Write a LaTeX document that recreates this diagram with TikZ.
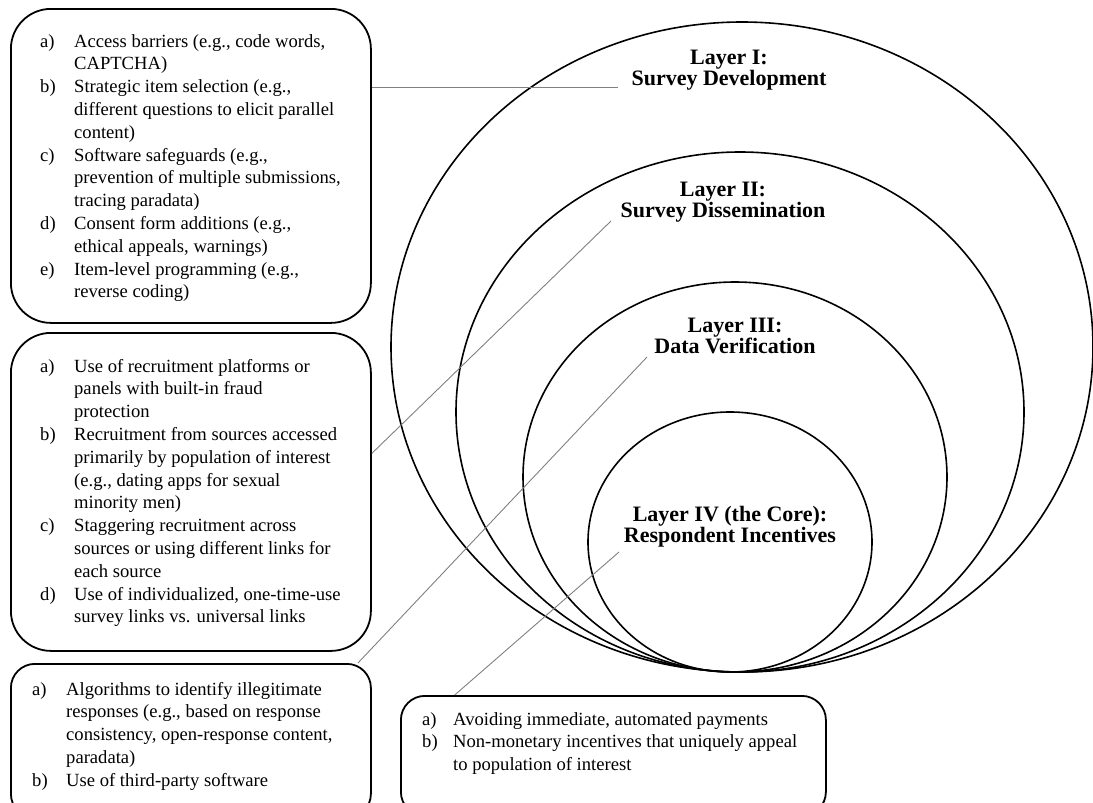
\documentclass[tikz,border=0pt]{standalone}
\usepackage{fontspec}
\setmainfont{Liberation Serif}

\newcommand{\itemfont}{\fontsize{18.6}{22.8}\selectfont}
\newcommand{\layerfont}{\fontsize{22}{21}\selectfont\bfseries}

\tikzset{
  listbox/.style={draw, line width=1.8pt, rounded corners=40pt, inner sep=0pt, anchor=north west},
  listtext/.style={font=\itemfont, inner sep=0pt, anchor=north west},
  layertitle/.style={font=\layerfont, align=center, inner sep=0pt},
  ring/.style={line width=1.6pt},
  link/.style={draw=black!50, line width=0.9pt},
}

\begin{document}
\begin{tikzpicture}[x=1pt,y=-1pt]
    \useasboundingbox (0,0) rectangle (1093,803);
    \clip (0,0) rectangle (1093,803);

    % Nested layers, all touching at the bottom
    \draw[ring] (742,347) ellipse [x radius=351pt, y radius=325pt];
    \draw[ring] (740,412) ellipse [x radius=284pt, y radius=260pt];
    \draw[ring] (735,477) ellipse [x radius=212pt, y radius=195pt];
    \draw[ring] (730,542) ellipse [x radius=142pt, y radius=130pt];

    % Layer titles
    \node[layertitle] (lay1) at (729,70.6) {Layer I:\\Survey Development};
    \node[layertitle] (lay2) at (723,202.6) {Layer II:\\Survey Dissemination};
    \node[layertitle] (lay3) at (735,336) {Layer III:\\Data Verification};
    \node[layertitle] (lay4) at (730,526.6) {Layer IV (the Core):\\Respondent Incentives};

    % Box for layer I
    \node[listbox, minimum width=360pt, minimum height=314pt] (devbox) at (10,8) {};
    \node[listtext] (devlist) at (40,31) {\begin{tabular}{@{}p{34pt}@{}l@{}}
        a) & Access barriers (e.g., code words,\\
           & CAPTCHA)\\
        b) & Strategic item selection (e.g.,\\
           & different questions to elicit parallel\\
           & content)\\
        c) & Software safeguards (e.g.,\\
           & prevention of multiple submissions,\\
           & tracing paradata)\\
        d) & Consent form additions (e.g.,\\
           & ethical appeals, warnings)\\
        e) & Item-level programming (e.g.,\\
           & reverse coding)
    \end{tabular}};

    % Box for layer II
    \node[listbox, minimum width=360pt, minimum height=318pt] (disbox) at (10,332) {};
    \node[listtext] (dislist) at (40,356) {\begin{tabular}{@{}p{34pt}@{}l@{}}
        a) & Use of recruitment platforms or\\
           & panels with built-in fraud\\
           & protection\\
        b) & Recruitment from sources accessed\\
           & primarily by population of interest\\
           & (e.g., dating apps for sexual\\
           & minority men)\\
        c) & Staggering recruitment across\\
           & sources or using different links for\\
           & each source\\
        d) & Use of individualized, one-time-use\\
           & survey links vs. universal links
    \end{tabular}};

    % Box for layer III (runs off the bottom)
    \node[listbox, rounded corners=24pt, minimum width=360pt, minimum height=154pt] (vfybox) at (10,663) {};
    \node[listtext] (vfylist) at (32,679) {\begin{tabular}{@{}p{34pt}@{}l@{}}
        a) & Algorithms to identify illegitimate\\
           & responses (e.g., based on response\\
           & consistency, open-response content,\\
           & paradata)\\
        b) & Use of third-party software
    \end{tabular}};

    % Box for layer IV (runs off the bottom)
    \node[listbox, rounded corners=24pt, minimum width=425pt, minimum height=120pt] (paybox) at (400,695) {};
    \node[listtext] (paylist) at (422,709) {\begin{tabular}{@{}p{31pt}@{}l@{}}
        a) & Avoiding immediate, automated payments\\
        b) & Non-monetary incentives that uniquely appeal\\
           & to population of interest
    \end{tabular}};

    % Leader lines from the boxes to the titles
    \coordinate (tip1) at (618,87);
    \coordinate (tip2) at (611,221);
    \coordinate (tip3) at (647,357);
    \coordinate (tip4) at (619,552);
    \draw[link] (devbox.east |- tip1) -- (tip1);
    \draw[link] (disbox.12.8) -- (tip2);
    \draw[link] (vfybox.25) -- (tip3);
    \draw[link] (paybox.159.7) -- (tip4);

\end{tikzpicture}
\end{document}
